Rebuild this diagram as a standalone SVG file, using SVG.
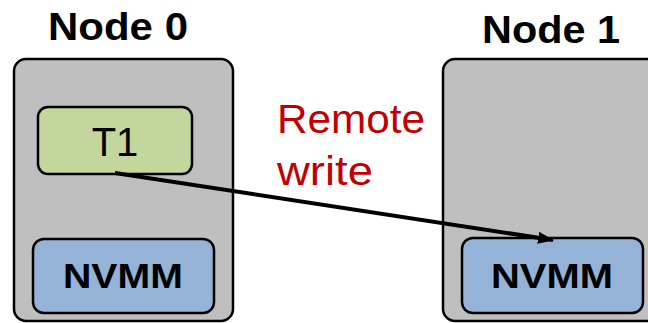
<svg xmlns="http://www.w3.org/2000/svg" width="648" height="323" viewBox="0 0 648 323">
<defs>
<marker id="ah" markerUnits="userSpaceOnUse" markerWidth="16" markerHeight="12" refX="15" refY="6" orient="auto">
<path d="M0,0 L16,6 L0,12 Z" fill="#000"/>
</marker>
<style>
.node{fill:#BFBFBF;stroke:#000;stroke-width:2.5}
.t{fill:#C3D69B;stroke:#000;stroke-width:2.5}
.mem{fill:#95B3D7;stroke:#000;stroke-width:2.5}
.title{font-family:"Liberation Sans",Arial,sans-serif;font-weight:bold;font-size:38px;fill:#000;text-anchor:middle}
.lbl{font-family:"Liberation Sans",Arial,sans-serif;font-size:40px;fill:#000;text-anchor:middle}
.mlbl{font-family:"Liberation Sans",Arial,sans-serif;font-weight:bold;font-size:35px;fill:#000;text-anchor:middle}
.red{font-family:"Liberation Sans",Arial,sans-serif;font-size:41px;fill:#C00000}
</style>
</defs>
<rect width="648" height="323" fill="#fff"/>
<g id="node0">
<text class="title" x="118" y="40" textLength="140" lengthAdjust="spacingAndGlyphs">Node 0</text>
<rect class="node" x="14" y="59" width="219" height="262" rx="12"/>
<g id="t1">
<rect class="t" x="38" y="107" width="154" height="67" rx="10"/>
<text class="lbl" x="115" y="156">T1</text>
</g>
<g id="nvmm0">
<rect class="mem" x="33" y="239" width="181" height="74" rx="11"/>
<text class="mlbl" x="123" y="288" textLength="120" lengthAdjust="spacingAndGlyphs">NVMM</text>
</g>
</g>
<g id="node1">
<text class="title" x="551" y="43" textLength="138" lengthAdjust="spacingAndGlyphs">Node 1</text>
<rect class="node" x="443" y="59" width="230" height="262" rx="12"/>
<g id="nvmm1">
<rect class="mem" x="462" y="238" width="181" height="75" rx="11"/>
<text class="mlbl" x="552" y="288" textLength="122" lengthAdjust="spacingAndGlyphs">NVMM</text>
</g>
</g>
<g id="label">
<text class="red" x="277" y="133" textLength="148" lengthAdjust="spacingAndGlyphs">Remote</text>
<text class="red" x="277" y="185" textLength="96" lengthAdjust="spacingAndGlyphs">write</text>
</g>
<g id="connectors">
<line x1="115" y1="173" x2="553" y2="240" stroke="#000" stroke-width="4" marker-end="url(#ah)"/>
</g>
</svg>
